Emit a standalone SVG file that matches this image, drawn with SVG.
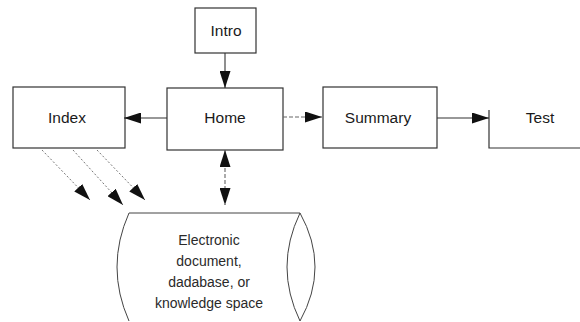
<svg xmlns="http://www.w3.org/2000/svg" width="580" height="322" viewBox="0 0 580 322">
<defs>
<style>
.box{fill:#fff;stroke:#333;stroke-width:1.2}
.lbl{font-family:"Liberation Sans",Arial,sans-serif;font-size:15.5px;fill:#1a1a1a;text-anchor:middle}
.cyl{font-family:"Liberation Sans",Arial,sans-serif;font-size:14px;fill:#2a2a2a;text-anchor:middle}
.solid{fill:none;stroke:#333;stroke-width:1.1}
.dash{fill:none;stroke:#666;stroke-width:1.1;stroke-dasharray:4 2}
.dot{fill:none;stroke:#777;stroke-width:1;stroke-dasharray:2 2}
.shape{fill:none;stroke:#444;stroke-width:1}
</style>
<marker id="ah" viewBox="0 0 17 11" refX="17" refY="5.5" markerWidth="17" markerHeight="11" markerUnits="userSpaceOnUse" orient="auto-start-reverse">
<path d="M0,0 L17,5.5 L0,11 Z" fill="#111"/>
</marker>
</defs>
<rect width="580" height="322" fill="#fff"/>
<g id="intro">
<rect class="box" x="195" y="8" width="61" height="45"/>
<text class="lbl" x="226" y="36">Intro</text>
</g>
<g id="index">
<rect class="box" x="13" y="87" width="112" height="61"/>
<text class="lbl" x="67" y="123">Index</text>
</g>
<g id="home">
<rect class="box" x="167" y="88" width="116" height="62"/>
<text class="lbl" x="225" y="123">Home</text>
</g>
<g id="summary">
<rect class="box" x="323" y="87" width="114" height="61"/>
<text class="lbl" x="378" y="123">Summary</text>
</g>
<g id="test">
<polyline class="box" points="489,110 489,148 580,148" style="fill:none"/>
<text class="lbl" x="540" y="123">Test</text>
</g>
<g id="store">
<path class="shape" d="M129,213 L300,213 M129,213 Q105,267 129,321 M300,213 Q274,267 300,321 M300,213 Q330,267 300,321"/>
<text class="cyl" x="209" y="245">Electronic</text>
<text class="cyl" x="209" y="266">document,</text>
<text class="cyl" x="209" y="287">dadabase, or</text>
<text class="cyl" x="209" y="308">knowledge space</text>
</g>
<g id="connectors">
<line class="solid" x1="225" y1="53" x2="225" y2="88" marker-end="url(#ah)"/>
<line class="solid" x1="167" y1="118" x2="124" y2="118" marker-end="url(#ah)"/>
<line class="dash" x1="283" y1="117" x2="322" y2="117" marker-end="url(#ah)"/>
<line class="solid" x1="437" y1="118" x2="489" y2="118" marker-end="url(#ah)"/>
<line class="dash" x1="225" y1="150" x2="225" y2="205" marker-start="url(#ah)" marker-end="url(#ah)"/>
<line class="dot" x1="42" y1="150" x2="90" y2="200" marker-end="url(#ah)"/>
<line class="dot" x1="73" y1="150" x2="123" y2="205" marker-end="url(#ah)"/>
<line class="dot" x1="97" y1="150" x2="145" y2="200" marker-end="url(#ah)"/>
</g>
</svg>
